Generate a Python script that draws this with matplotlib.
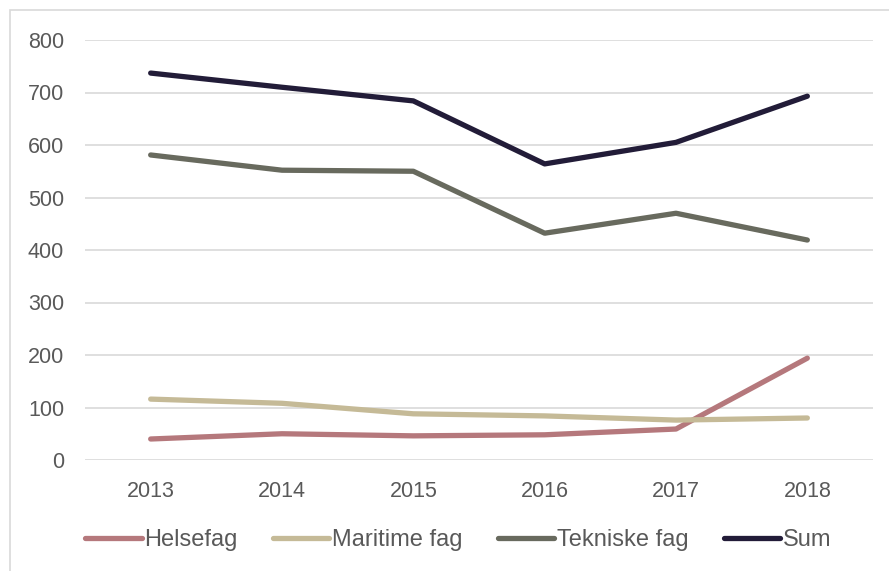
import matplotlib
matplotlib.use("Agg")
import matplotlib.pyplot as plt
from matplotlib.patches import Rectangle

plt.rcParams['font.family'] = ['Liberation Sans', 'DejaVu Sans']

years = ['2013', '2014', '2015', '2016', '2017', '2018']
helsefag = [40, 50, 46, 48, 59, 194]
maritime = [116, 108, 88, 84, 76, 80]
tekniske = [581, 552, 550, 432, 470, 419]
total = [737, 710, 684, 564, 605, 693]

series = [
    ('Helsefag', helsefag, '#b5787c'),
    ('Maritime fag', maritime, '#c5ba97'),
    ('Tekniske fag', tekniske, '#686a5e'),
    ('Sum', total, '#221c38'),
]
text_col = '#595959'

fig = plt.figure(figsize=(8.89, 5.71), dpi=100)
# chart border (only left and top edges visible)
fig.patches.append(Rectangle((10 / 889, -0.1), 2, 1.1 - 10 / 571,
                             transform=fig.transFigure, fill=False,
                             edgecolor='#d9d9d9', linewidth=1.2))
ax = fig.add_axes([85 / 889, (571 - 460) / 571, 788 / 889, 420 / 571])

x = range(len(years))
for name, vals, col in series:
    ax.plot(x, vals, color=col, linewidth=3.8, label=name,
            solid_capstyle='round', solid_joinstyle='round')

ax.set_xlim(-0.5, len(years) - 0.5)
ax.set_ylim(0, 800)
ax.set_yticks(range(0, 801, 100))
ax.set_xticks(list(x))
ax.set_xticklabels(years)
ax.grid(axis='y', color='#d9d9d9', linewidth=1.2)
ax.set_axisbelow(True)
for s in ax.spines.values():
    s.set_visible(False)
ax.tick_params(length=0, labelsize=15.5, colors=text_col)
ax.tick_params(axis='y', pad=15)
ax.tick_params(axis='x', pad=15)

leg = fig.legend(loc='center left', bbox_to_anchor=(85 / 889, (571 - 540) / 571),
                 ncol=4, frameon=False, fontsize=17, handlelength=2.4,
                 handletextpad=0.1, columnspacing=1.5, borderpad=0,
                 borderaxespad=0)
for t in leg.get_texts():
    t.set_color(text_col)

fig.savefig('out.png', dpi=100)
